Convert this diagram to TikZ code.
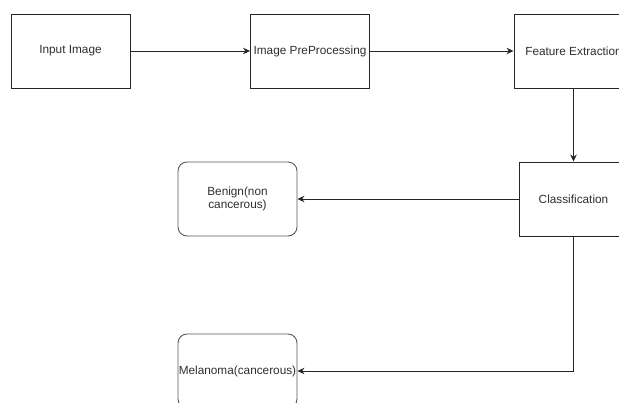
\documentclass[tikz,border=0pt]{standalone}
\usepackage{fontspec}
\setmainfont{Liberation Sans}
\usetikzlibrary{arrows.meta}

\begin{document}
\begin{tikzpicture}[x=1pt,y=-1pt,
  box/.style={draw=black!85,line width=0.9pt,minimum width=119pt,minimum height=74pt,
    inner sep=0pt,text=black!82,font=\fontsize{11.8}{13.8}\selectfont,align=center},
  result/.style={box,draw=black!65,rounded corners=9pt},
  link/.style={draw=black!85,line width=0.9pt,-{Stealth[length=7pt,width=6.5pt]}}]
\useasboundingbox (0,0) rectangle (619,403);
\clip (0,0) rectangle (619,403);

% top row
\node[box] (input) at (70.5,51) {Input Image};
\node[box] (prep) at (310,51) {Image PreProcessing};
\node[box] (feat) at (573.5,51) {Feature Extraction};

% classifier and results
\node[box,minimum width=108pt] (class) at (573.5,199) {Classification};
\node[result] (benign) at (237.5,199) {Benign(non\\cancerous)};
\node[result] (mela) at (237.5,371) {Melanoma(cancerous)};

\draw[link] (input) -- (prep);
\draw[link] (prep) -- (feat);
\draw[link] (feat) -- (class);
\draw[link] (class) -- (benign);
\draw[link] (class.south) |- (mela.east);
\end{tikzpicture}
\end{document}
